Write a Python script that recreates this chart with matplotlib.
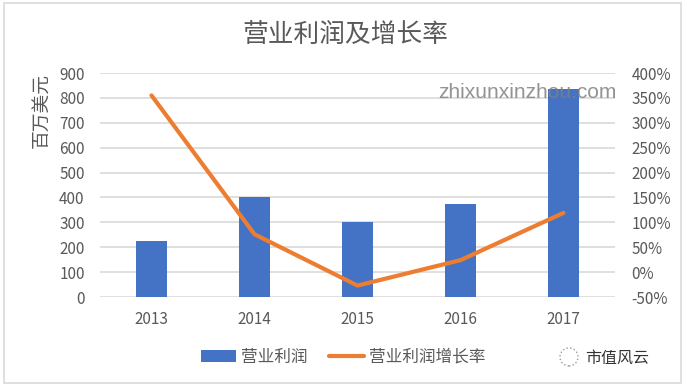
import matplotlib.pyplot as plt
from matplotlib.patches import Rectangle, Ellipse
from matplotlib.ticker import FuncFormatter

plt.rcParams['font.family'] = ['Noto Sans CJK SC', 'DejaVu Sans']

# data
years = ['2013', '2014', '2015', '2016', '2017']
profit = [226, 400, 301, 375, 837]          # 百万美元
growth = [3.55, 0.76, -0.27, 0.24, 1.19]    # 增长率

blue = '#4472C4'
orange = '#ED7D31'
grey = '#595959'
W, H = 687, 388

fig = plt.figure(figsize=(W / 100, H / 100), dpi=100)
ax = fig.add_axes([100 / W, 91 / H, 515 / W, 224 / H])

x = range(len(years))
bars = ax.bar(x, profit, width=0.31, color=blue, zorder=2)
ax.set_xlim(-0.5, len(years) - 0.5)
ax.set_ylim(0, 900)
ax.set_yticks(range(0, 901, 100))
ax.set_xticks(list(x))
ax.set_xticklabels(years)
ax.grid(axis='y', color='#D9D9D9', linewidth=1.2, zorder=0)
ax.set_axisbelow(True)

ax2 = ax.twinx()
line, = ax2.plot(x, growth, color=orange, linewidth=3, solid_capstyle='round', zorder=3)
ax2.set_ylim(-0.5, 4.0)
ax2.set_yticks([i / 2 for i in range(-1, 9)])
ax2.yaxis.set_major_formatter(FuncFormatter(lambda v, p: f'{v * 100:.0f}%'))

for a in (ax, ax2):
    for s in a.spines.values():
        s.set_visible(False)
ax.tick_params(axis='y', length=0, pad=11, labelsize=11, labelcolor=grey)
ax.tick_params(axis='x', length=0, pad=10, labelsize=11, labelcolor=grey)
ax2.tick_params(axis='y', length=0, pad=12, labelsize=11, labelcolor=grey)

fig.text(345 / W, 1 - 35 / H, '营业利润及增长率', ha='center', va='center',
         fontsize=18.5, color=grey)
fig.text(42 / W, 1 - 111 / H, '百万美元', ha='center', va='center',
         rotation=90, fontsize=13.5, color=grey)

fig.legend([bars, line], ['营业利润', '营业利润增长率'], loc='center',
           bbox_to_anchor=(343 / W, 1 - 357 / H), ncol=2, frameon=False,
           fontsize=12, labelcolor=grey, handlelength=2.1, handletextpad=0.3,
           columnspacing=1.3)

# watermarks
fig.text(527 / W, 1 - 93 / H, 'zhixunxinzhou.com', ha='center', va='center',
         fontsize=15, color='#808080', alpha=0.85, family='Liberation Sans', zorder=5)
fig.text(617 / W, 1 - 358 / H, '市值风云', ha='center', va='center',
         fontsize=11.5, color='#333333')
fig.add_artist(Ellipse((569 / W, 1 - 357 / H), 18 / W, 18 / H, transform=fig.transFigure,
                       fill=False, edgecolor='#999999', linestyle=':', linewidth=1))

# chart frame
fig.add_artist(Rectangle((4 / W, 5 / H), 677 / W, 380 / H, transform=fig.transFigure,
                         fill=False, edgecolor='#D9D9D9', linewidth=1.2))

fig.savefig('out.png', dpi=100)
